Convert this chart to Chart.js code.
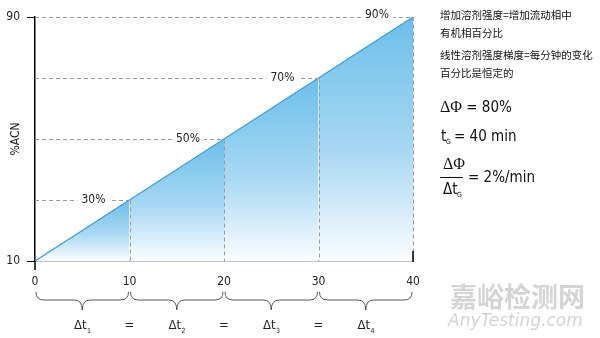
<!DOCTYPE html>
<html>
<head>
<meta charset="utf-8">
<script src="https://cdn.jsdelivr.net/npm/chart.js@4/dist/chart.umd.min.js"></script>
<style>
  body { margin: 0; background: #fff; }
  #wrap { width: 600px; height: 338px; position: relative; }
</style>
</head>
<body>
<div id="wrap"><canvas id="grafico"></canvas></div>
<script>
// data
const tempos = [0, 10, 20, 30, 40];          // min
const percentagens = [10, 30, 50, 70, 90];   // %ACN
const rotulos = ["30%", "50%", "70%", "90%"];
const yTicks = [10, 90];
const intervalos = ["1", "2", "3", "4"];      // Δt subscripts

const notas = [
  "增加溶剂强度=增加流动相中",
  "有机相百分比",
  "线性溶剂强度梯度=每分钟的变化",
  "百分比是恒定的"
];

const FONTE = "'Liberation Sans Narrow', 'DejaVu Sans Condensed', 'Liberation Sans', sans-serif";
const CJK = "'Noto Sans CJK SC', sans-serif";

// ---- one dataset per 10 min strip, each with own gradient ----
const datasets = [];
for (let i = 0; i < tempos.length - 1; i++) {
  datasets.push({
    data: [
      { x: tempos[i], y: percentagens[i] },
      { x: tempos[i + 1], y: percentagens[i + 1] }
    ],
    borderColor: "#3c9cd6",
    borderWidth: 1.2,
    pointRadius: 0,
    fill: "start",
    backgroundColor: (c) => {
      const chart = c.chart;
      const area = chart.chartArea;
      if (!area) return "transparent";
      const topo = chart.scales.y.getPixelForValue(percentagens[i + 1]);
      const g = chart.ctx.createLinearGradient(0, topo, 0, area.bottom);
      g.addColorStop(0, "#6cbfea");
      g.addColorStop(0.55, "#a9d8f3");
      g.addColorStop(1, "#fbfdff");
      return g;
    }
  });
}

// ---- extras: dashed guides, labels, braces, right notes ----
const extras = {
  id: "extras",
  afterDatasetsDraw(chart) {
    const { ctx, scales: { x, y }, chartArea } = chart;
    ctx.save();

    // dashed guides
    ctx.strokeStyle = "#9a9a9a";
    ctx.lineWidth = 1;
    ctx.setLineDash([4, 3]);
    for (let i = 1; i < tempos.length; i++) {
      const px = Math.round(x.getPixelForValue(tempos[i])) + 0.5;
      const py = Math.round(y.getPixelForValue(percentagens[i])) + 0.5;
      ctx.beginPath();
      ctx.moveTo(x.getPixelForValue(0), py);
      ctx.lineTo(px, py);
      ctx.moveTo(px, py);
      ctx.lineTo(px, chartArea.bottom);
      ctx.stroke();
    }
    ctx.setLineDash([]);

    // percentage labels on the dashed lines
    ctx.font = "12px " + FONTE;
    ctx.textAlign = "center";
    ctx.textBaseline = "middle";
    for (let i = 1; i < tempos.length; i++) {
      const px = x.getPixelForValue(tempos[i]) - 36;
      const py = y.getPixelForValue(percentagens[i]) - (i === 4 ? 2 : 0);
      const w = ctx.measureText(rotulos[i - 1]).width + 8;
      ctx.fillStyle = "#fff";
      ctx.fillRect(px - w / 2, py - 7, w, 14);
      ctx.fillStyle = "#222";
      ctx.fillText(rotulos[i - 1], px, py);
    }

    // y axis runs a bit below the x axis, end mark at 40
    ctx.strokeStyle = "#000";
    ctx.lineWidth = 1.5;
    ctx.beginPath();
    ctx.moveTo(chartArea.left, chartArea.bottom);
    ctx.lineTo(chartArea.left, chartArea.bottom + 9);
    const xf = x.getPixelForValue(tempos[tempos.length - 1]);
    ctx.moveTo(xf, chartArea.bottom - 10);
    ctx.lineTo(xf, chartArea.bottom + 1);
    ctx.stroke();

    // braces under the x axis
    ctx.strokeStyle = "#555";
    ctx.lineWidth = 1;
    const yTop = 292, yMid = 300, yTip = 310, r = 8;
    for (let i = 0; i < tempos.length - 1; i++) {
      const x0 = x.getPixelForValue(tempos[i]) + 1;
      const x1 = x.getPixelForValue(tempos[i + 1]) - 1;
      const xm = (x0 + x1) / 2;
      ctx.beginPath();
      ctx.moveTo(x0, yTop);
      ctx.quadraticCurveTo(x0, yMid, x0 + r, yMid);
      ctx.lineTo(xm - r, yMid);
      ctx.quadraticCurveTo(xm, yMid, xm, yTip);
      ctx.moveTo(x1, yTop);
      ctx.quadraticCurveTo(x1, yMid, x1 - r, yMid);
      ctx.lineTo(xm + r, yMid);
      ctx.quadraticCurveTo(xm, yMid, xm, yTip);
      ctx.stroke();
    }

    // Δt labels with "=" between
    ctx.fillStyle = "#222";
    ctx.textBaseline = "middle";
    for (let i = 0; i < tempos.length - 1; i++) {
      const xm = (x.getPixelForValue(tempos[i]) + x.getPixelForValue(tempos[i + 1])) / 2;
      ctx.font = "13px " + FONTE;
      const w = ctx.measureText("Δt").width;
      ctx.font = "7px " + FONTE;
      const ws = ctx.measureText(intervalos[i]).width;
      const start = xm - (w + ws) / 2;
      ctx.textAlign = "left";
      ctx.font = "13px " + FONTE;
      ctx.fillText("Δt", start, 326);
      ctx.font = "7px " + FONTE;
      ctx.fillText(intervalos[i], start + w + 0.5, 331);
      if (i > 0) {
        ctx.textAlign = "center";
        ctx.font = "13px " + FONTE;
        ctx.fillText("=", x.getPixelForValue(tempos[i]), 326);
      }
    }

    // notes on the right
    ctx.textAlign = "left";
    ctx.font = "10.5px " + CJK;
    ctx.fillStyle = "#111";
    ctx.fillText(notas[0], 440, 15);
    ctx.fillText(notas[1], 440, 33);
    ctx.fillText(notas[2], 440, 55);
    ctx.fillText(notas[3], 440, 73);

    ctx.font = "16px 'Liberation Serif', serif";
    ctx.fillText("ΔΦ", 440, 108);
    let wd = ctx.measureText("ΔΦ").width;
    ctx.font = "15px " + FONTE;
    ctx.fillText(" = 80%", 440 + wd, 108);

    ctx.font = "15px " + FONTE;
    ctx.fillText("t", 441, 137);
    ctx.font = "7px " + FONTE;
    ctx.fillText("G", 446, 142);
    ctx.font = "15px " + FONTE;
    ctx.fillText("= 40 min", 454, 137);

    ctx.font = "16px 'Liberation Serif', serif";
    ctx.fillText("ΔΦ", 443, 165);
    ctx.fillRect(440, 177, 23, 1);
    ctx.font = "15px " + FONTE;
    ctx.fillText("Δt", 443, 190);
    ctx.font = "7px " + FONTE;
    ctx.fillText("G", 457, 195);
    ctx.font = "15px " + FONTE;
    ctx.fillText("= 2%/min", 468, 178);

    // watermark
    ctx.fillStyle = "#d4d4d4";
    ctx.font = "bold 27px " + CJK;
    ctx.fillText("嘉峪检测网", 450, 297);
    ctx.font = "italic 17px 'DejaVu Sans', sans-serif";
    ctx.fillText("AnyTesting.com", 448, 322);

    ctx.restore();
  }
};

new Chart(document.getElementById("grafico"), {
  type: "line",
  data: { datasets: datasets },
  options: {
    responsive: true,
    maintainAspectRatio: false,
    animation: false,
    layout: { padding: { left: 0, top: 17, right: 187, bottom: 0 } },
    plugins: { legend: { display: false }, tooltip: { enabled: false } },
    scales: {
      x: {
        type: "linear",
        min: 0,
        max: 40,
        afterBuildTicks: (s) => { s.ticks = tempos.map(v => ({ value: v })); },
        afterFit: (s) => { s.height = 77; },
        grid: { display: false, drawTicks: false },
        border: { display: true, color: "#8a8a8a", width: 1.5 },
        ticks: { padding: 14, color: "#222", font: { family: FONTE, size: 12 } }
      },
      y: {
        type: "linear",
        min: 10,
        max: 90,
        afterBuildTicks: (s) => { s.ticks = yTicks.map(v => ({ value: v })); },
        afterFit: (s) => { s.width = 35; },
        grid: { drawOnChartArea: false, drawTicks: true, tickLength: 8, color: "#000" },
        border: { display: true, color: "#000", width: 1.5 },
        ticks: { padding: 7, color: "#222", font: { family: FONTE, size: 12 } },
        title: {
          display: true,
          text: "%ACN",
          color: "#222",
          padding: { top: 9, bottom: 0 },
          font: { family: FONTE, size: 12 }
        }
      }
    }
  },
  plugins: [extras]
});
</script>
</body>
</html>
